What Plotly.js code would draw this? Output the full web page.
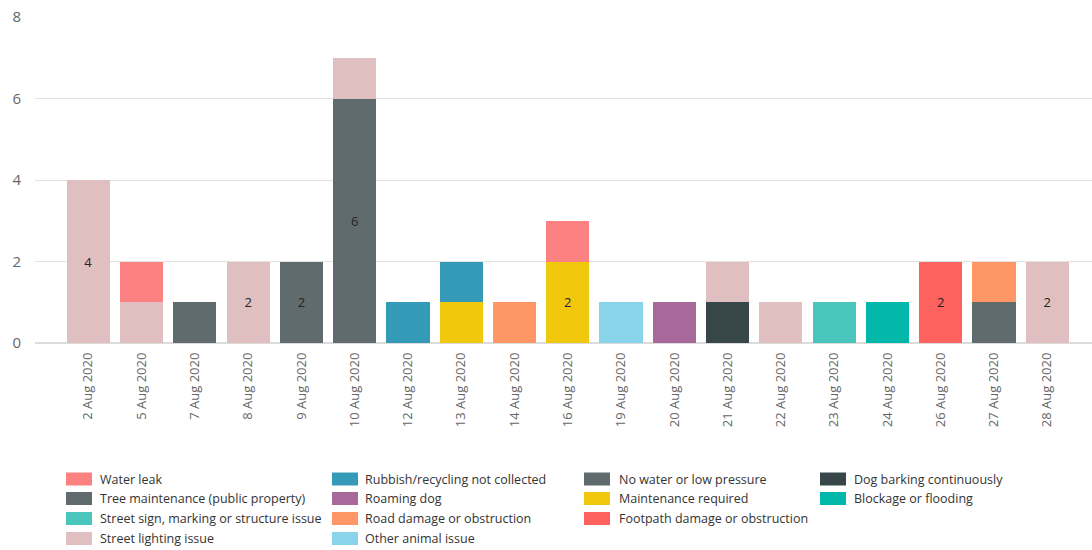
<!DOCTYPE html>
<html>
<head>
<meta charset="utf-8">
<script src="https://cdn.plot.ly/plotly-3.0.1.min.js"></script>
<style>html,body{margin:0;padding:0;background:#fff;}#chart{width:1092px;height:550px;}</style>
</head>
<body>
<div id="chart"></div>
<script>
// ---- Data ----
const dates = ['2 Aug 2020','5 Aug 2020','7 Aug 2020','8 Aug 2020','9 Aug 2020','10 Aug 2020','12 Aug 2020','13 Aug 2020','14 Aug 2020','16 Aug 2020','19 Aug 2020','20 Aug 2020','21 Aug 2020','22 Aug 2020','23 Aug 2020','24 Aug 2020','26 Aug 2020','27 Aug 2020','28 Aug 2020'];

// series values per date (order of dates above)
const blockageFlooding    = [0,0,0,0,0,0,0,0,0,0,0,0,0,0,0,1,0,0,0];
const dogBarking          = [0,0,0,0,0,0,0,0,0,0,0,0,1,0,0,0,0,0,0];
const footpathDamage      = [0,0,0,0,0,0,0,0,0,0,0,0,0,0,0,0,2,0,0];
const maintenanceRequired = [0,0,0,0,0,0,0,1,0,2,0,0,0,0,0,0,0,0,0];
const noWater             = [0,0,0,0,0,6,0,0,0,0,0,0,0,0,0,0,0,1,0];
const otherAnimal         = [0,0,0,0,0,0,0,0,0,0,1,0,0,0,0,0,0,0,0];
const roadDamage          = [0,0,0,0,0,0,0,0,1,0,0,0,0,0,0,0,0,1,0];
const roamingDog          = [0,0,0,0,0,0,0,0,0,0,0,1,0,0,0,0,0,0,0];
const rubbish             = [0,0,0,0,0,0,1,1,0,0,0,0,0,0,0,0,0,0,0];
const streetLighting      = [4,1,0,2,0,1,0,0,0,0,0,0,1,1,0,0,0,0,2];
const streetSign          = [0,0,0,0,0,0,0,0,0,0,0,0,0,0,1,0,0,0,0];
const treeMaintenance     = [0,0,1,0,2,0,0,0,0,0,0,0,0,0,0,0,0,0,0];
const waterLeak           = [0,1,0,0,0,0,0,0,0,1,0,0,0,0,0,0,0,0,0];

// stacking order (bottom first)
const series = [
  {name:'Blockage or flooding', values:blockageFlooding, color:'#01B8AA'},
  {name:'Dog barking continuously', values:dogBarking, color:'#374649'},
  {name:'Footpath damage or obstruction', values:footpathDamage, color:'#FD625E'},
  {name:'Maintenance required', values:maintenanceRequired, color:'#F2C80F'},
  {name:'No water or low pressure', values:noWater, color:'#5F6B6D'},
  {name:'Other animal issue', values:otherAnimal, color:'#8AD4EB'},
  {name:'Road damage or obstruction', values:roadDamage, color:'#FE9666'},
  {name:'Roaming dog', values:roamingDog, color:'#A66999'},
  {name:'Rubbish/recycling not collected', values:rubbish, color:'#3599B8'},
  {name:'Street lighting issue', values:streetLighting, color:'#DFBFBF'},
  {name:'Street sign, marking or structure issue', values:streetSign, color:'#4AC5BB'},
  {name:'Tree maintenance (public property)', values:treeMaintenance, color:'#5F6B6D'},
  {name:'Water leak', values:waterLeak, color:'#FB8281'}
];

// legend grid (rows of columns)
const legendRows = [
  ['Water leak','Rubbish/recycling not collected','No water or low pressure','Dog barking continuously'],
  ['Tree maintenance (public property)','Roaming dog','Maintenance required','Blockage or flooding'],
  ['Street sign, marking or structure issue','Road damage or obstruction','Footpath damage or obstruction'],
  ['Street lighting issue','Other animal issue']
];

const yTicks = [0,2,4,6,8];

// ---- geometry ----
const W = 1092, H = 550;
const M = {l:35, r:0, t:17, b:207};
const PW = W - M.l - M.r, PH = H - M.t - M.b;
const px2x = p => (p - M.l) / PW;
const py2y = p => 1 - (p - M.t) / PH;

const traces = series.map(s => ({
  type:'bar',
  name:s.name,
  x:dates,
  y:s.values.map(v => v === 0 ? null : v),
  marker:{color:s.color, line:{width:0}},
  text:s.values.map(v => v >= 2 ? String(v) : ''),
  textposition:'inside',
  insidetextanchor:'middle',
  textangle:0,
  textfont:{color:'#252423', size:13, family:'Open Sans, sans-serif'},
  hoverinfo:'x+y+name',
  showlegend:false
}));

const colX = [{sw:66, tx:98},{sw:332, tx:363},{sw:584, tx:617},{sw:820, tx:852}];
const rowY = [479, 498.5, 518.5, 538.5];
const shapes = [], annotations = [];
legendRows.forEach((row, ri) => {
  row.forEach((name, ci) => {
    const s = series.find(q => q.name === name);
    const c = colX[ci], r = rowY[ri];
    shapes.push({type:'rect', xref:'paper', yref:'paper',
      x0:px2x(c.sw), x1:px2x(c.sw + 26), y0:py2y(r + 6.5), y1:py2y(r - 6.5),
      fillcolor:s.color, line:{width:0}});
    annotations.push({xref:'paper', yref:'paper', x:px2x(c.tx), y:py2y(r),
      xanchor:'left', yanchor:'middle', showarrow:false, text:name,
      font:{family:'Open Sans, sans-serif', size:12.5, color:'#333333'}});
  });
});

const layout = {
  width:W, height:H,
  margin:M,
  paper_bgcolor:'#ffffff', plot_bgcolor:'#ffffff',
  barmode:'stack',
  bargap:0.19,
  showlegend:false,
  font:{family:'Open Sans, sans-serif', color:'#666666'},
  xaxis:{
    type:'category',
    range:[-1, 18.84],
    tickangle:-90,
    tickfont:{size:13, color:'#666666'},
    showgrid:false, zeroline:false, showline:false, ticks:'',
    ticklabelstandoff:6,
    fixedrange:true
  },
  yaxis:{
    range:[0, 8],
    tickvals:yTicks,
    tickfont:{size:15, color:'#666666'},
    gridcolor:'#e1e1e1', gridwidth:1,
    zeroline:true, zerolinecolor:'#dcdcdc', zerolinewidth:2,
    showline:false, ticks:'', ticklabelstandoff:13,
    fixedrange:true
  },
  shapes:shapes,
  annotations:annotations
};

Plotly.newPlot('chart', traces, layout, {displayModeBar:false, staticPlot:true});
</script>
</body>
</html>
